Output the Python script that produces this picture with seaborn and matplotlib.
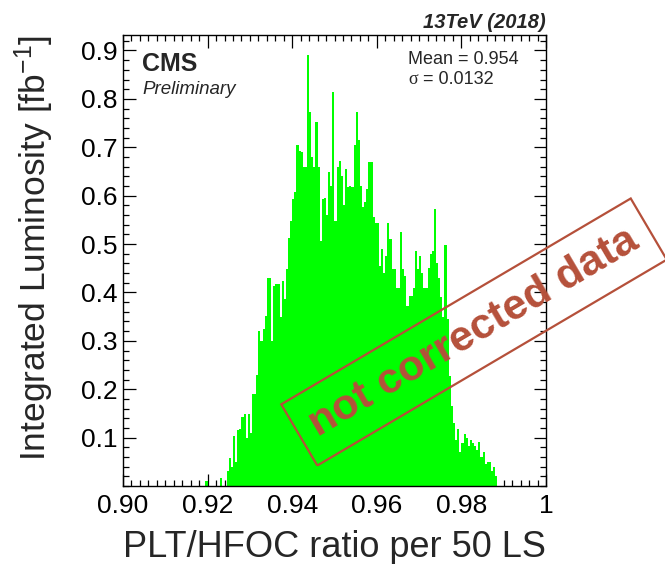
import numpy as np
import pandas as pd
import matplotlib
matplotlib.use("Agg")
import matplotlib.pyplot as plt
from matplotlib.ticker import FixedLocator, FixedFormatter, MultipleLocator
import seaborn as sns

# ---- data: integrated luminosity per PLT/HFOC ratio bin (bin width 0.0005) ----
bin_width = 0.0005
first_bin_center = 0.91975
lumi = [
    0.010, 0, 0, 0, 0, 0, 0, 0.017, 0, 0, 0.030,
    0.058, 0.040, 0.103, 0.050, 0.115, 0.117, 0.143, 0.148, 0.100, 0.148,
    0.110, 0.190, 0.190, 0.229, 0.320, 0.300, 0.324, 0.351, 0.430, 0.430,
    0.300, 0.413, 0.417, 0.417, 0.350, 0.424, 0.386, 0.448, 0.513, 0.548,
    0.594, 0.607, 0.705, 0.693, 0.690, 0.660, 0.660, 0.890, 0.773, 0.680,
    0.660, 0.753, 0.660, 0.506, 0.593, 0.596, 0.560, 0.648, 0.620, 0.815,
    0.548, 0.660, 0.672, 0.640, 0.580, 0.656, 0.617, 0.620, 0.617, 0.705,
    0.772, 0.714, 0.620, 0.576, 0.586, 0.614, 0.669, 0.669, 0.555, 0.543,
    0.543, 0.455, 0.489, 0.441, 0.475, 0.543, 0.510, 0.448, 0.448, 0.410,
    0.410, 0.524, 0.448, 0.434, 0.372, 0.393, 0.393, 0.410, 0.486, 0.448,
    0.475, 0.441, 0.410, 0.410, 0.450, 0.480, 0.486, 0.573, 0.460, 0.430,
    0.390, 0.350, 0.497, 0.345, 0.227, 0.165, 0.130, 0.096, 0.117, 0.070,
    0.089, 0.108, 0.100, 0.082, 0.096, 0.089, 0.082, 0.075, 0.090, 0.060,
    0.070, 0.045, 0.050, 0.050, 0.030, 0.040, 0.020,
]
ratio = np.round(first_bin_center + bin_width * np.arange(len(lumi)), 5)

x_ticks = [0.90, 0.92, 0.94, 0.96, 0.98, 1.00]
x_tick_labels = ["0.90", "0.92", "0.94", "0.96", "0.98", "1"]
y_ticks = [0.1, 0.2, 0.3, 0.4, 0.5, 0.6, 0.7, 0.8, 0.9]
y_tick_labels = ["0.1", "0.2", "0.3", "0.4", "0.5", "0.6", "0.7", "0.8", "0.9"]

df = pd.DataFrame({"ratio": ratio, "lumi": lumi})

# ---- style ----
sns.set_style("ticks")
plt.rcParams["font.family"] = ["Liberation Sans", "DejaVu Sans"]
plt.rcParams["mathtext.fontset"] = "custom"
plt.rcParams["mathtext.rm"] = "Liberation Sans"
plt.rcParams["mathtext.it"] = "Liberation Sans:italic"
plt.rcParams["mathtext.bf"] = "Liberation Sans:bold"

fig = plt.figure(figsize=(6.65, 5.64), dpi=100)
ax = fig.add_axes([123 / 665, 1 - 486 / 564, (546 - 123) / 665, (486 - 35) / 564])

sns.histplot(data=df, x="ratio", weights="lumi", binwidth=bin_width,
             binrange=(0.9, 1.0), color="#00ff00",
             alpha=1.0, linewidth=0, element="bars", fill=True, ax=ax)

ax.set_xlim(0.9, 1.0)
ax.set_ylim(0, 0.932)

ax.xaxis.set_major_locator(FixedLocator(x_ticks))
ax.xaxis.set_major_formatter(FixedFormatter(x_tick_labels))
ax.xaxis.set_minor_locator(MultipleLocator(0.002))
ax.yaxis.set_major_locator(FixedLocator(y_ticks))
ax.yaxis.set_major_formatter(FixedFormatter(y_tick_labels))
ax.yaxis.set_minor_locator(MultipleLocator(0.02))

ax.tick_params(axis="both", which="both", direction="in", top=True, right=True,
               colors="black", width=0.9)
ax.tick_params(axis="x", which="major", length=9, labelsize=19, pad=6)
ax.tick_params(axis="x", which="minor", length=4.5)
ax.tick_params(axis="y", which="major", length=9, labelsize=19, pad=4)
ax.tick_params(axis="y", which="minor", length=4.5)
for sp in ax.spines.values():
    sp.set_visible(True)
    sp.set_linewidth(1.0)
    sp.set_color("black")

ax.set_xlabel("PLT/HFOC ratio per 50 LS", fontsize=26, loc="right")
ax.xaxis.set_label_coords(1.0, -0.098)
ax.set_ylabel("Integrated Luminosity [fb$^{-1}$]", fontsize=25.5, loc="top")
ax.yaxis.set_label_coords(-0.158, 1.0)

# ---- annotations ----
ax.text(0.045, 0.962, "CMS", transform=ax.transAxes, fontsize=18,
        fontweight="bold", ha="left", va="top")
ax.text(0.045, 0.897, "Preliminary", transform=ax.transAxes, fontsize=13.5,
        fontstyle="italic", ha="left", va="top")
fig.text(546 / 665, 1 - 22 / 564, "13TeV (2018)", fontsize=14.5,
         fontweight="bold", fontstyle="italic", ha="right", va="center")
fig.text(408 / 665, 1 - 59 / 564, "Mean = 0.954", fontsize=13,
         ha="left", va="center")
fig.text(408 / 665, 1 - 79 / 564, "σ", fontsize=13,
         ha="left", va="center", family=["Liberation Serif", "DejaVu Serif"])
fig.text(423 / 665, 1 - 79 / 564, "= 0.0132", fontsize=13,
         ha="left", va="center")

stamp_color = "#b5503a"
fig.text(474 / 665, 1 - 332 / 564, "not corrected data", fontsize=31,
         fontweight="bold", color=stamp_color, rotation=30.5,
         rotation_mode="anchor", ha="center", va="center",
         bbox=dict(boxstyle="square,pad=0.36", fc="none", ec=stamp_color, lw=1.6))

fig.savefig("out.png", dpi=100)
